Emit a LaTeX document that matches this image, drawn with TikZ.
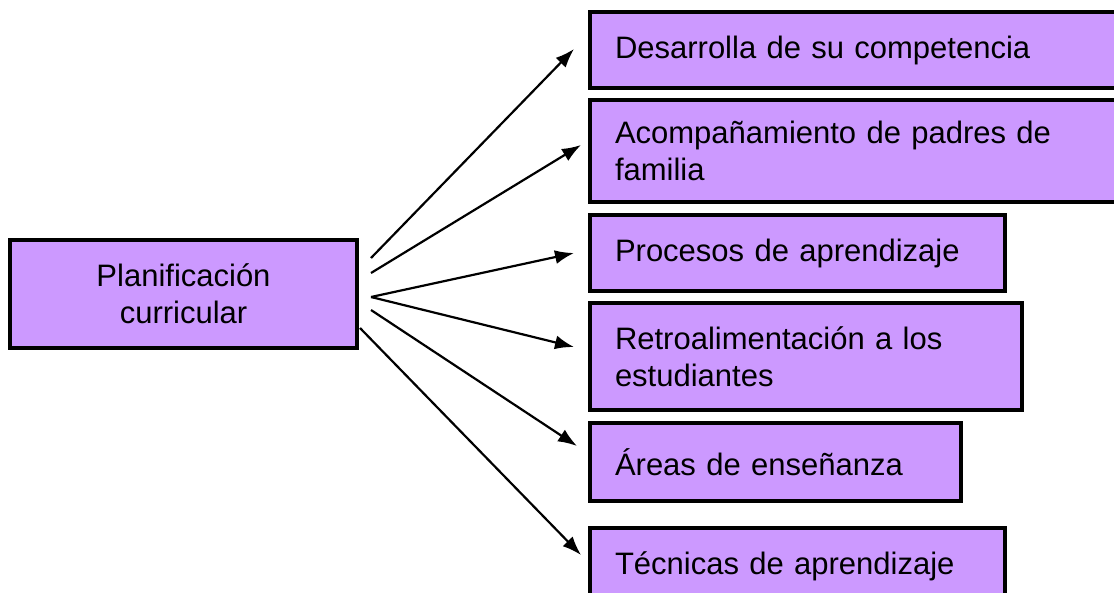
\documentclass[tikz,border=0pt]{standalone}
\usepackage{fontspec}
\setmainfont{Liberation Sans}
\usetikzlibrary{arrows.meta}
\usetikzlibrary{positioning}
\definecolor{lila}{HTML}{CC99FF}

\begin{document}
\begin{tikzpicture}[
		x=1pt, y=-1pt,
		block/.style={draw, fill=lila, line width=4pt, inner xsep=25pt, inner ysep=0pt, align=left, font=\fontsize{31}{37}\selectfont},
		arr/.style={line width=2.2pt, -{Latex[length=19pt, width=14pt]}},
	]
		\useasboundingbox (0,0) rectangle (1114,592);

		\node[block, align=center, inner xsep=0pt, minimum width=347pt, minimum height=108pt] (plan) at (183.5,294) {Planificación\\curricular};

		\node[block, text width=485pt, minimum height=76pt] (des) at (857.5,50) {Desarrolla de su competencia};
		\node[block, text width=485pt, minimum height=102pt] (acp) at (857.5,151) {Acompañamiento de padres de\\familia};
		\node[block, text width=365pt, minimum height=76pt] (pro) at (797.5,253) {Procesos de aprendizaje};
		\node[block, text width=382pt, minimum height=107pt] (ret) at (806,356.5) {Retroalimentación a los\\estudiantes};
		\node[block, text width=321pt, minimum height=78pt] (are) at (775.5,462) {Áreas de enseñanza};
		\node[block, text width=365pt, minimum height=76pt] (tec) at (797.5,566) {Técnicas de aprendizaje};

		\coordinate (s1) at ([shift={(12pt,36pt)}]plan.east);
		\coordinate (s2) at ([shift={(12pt,21pt)}]plan.east);
		\coordinate (s3) at ([shift={(12pt,-3pt)}]plan.east);
		\coordinate (s5) at ([shift={(12pt,-16pt)}]plan.east);
		\coordinate (s6) at ([shift={(1pt,-34pt)}]plan.east);

		\draw[arr] (s1) -- ([shift={(-14pt,1pt)}]des.west);
		\draw[arr] (s2) -- ([shift={(-7pt,6pt)}]acp.west);
		\draw[arr] (s3) -- ([shift={(-14pt,0pt)}]pro.west);
		\draw[arr] (s3) -- ([shift={(-14pt,9.5pt)}]ret.west);
		\draw[arr] (s5) -- ([shift={(-11pt,16pt)}]are.west);
		\draw[arr] (s6) -- ([shift={(-7pt,11pt)}]tec.west);
	\end{tikzpicture}
\end{document}
